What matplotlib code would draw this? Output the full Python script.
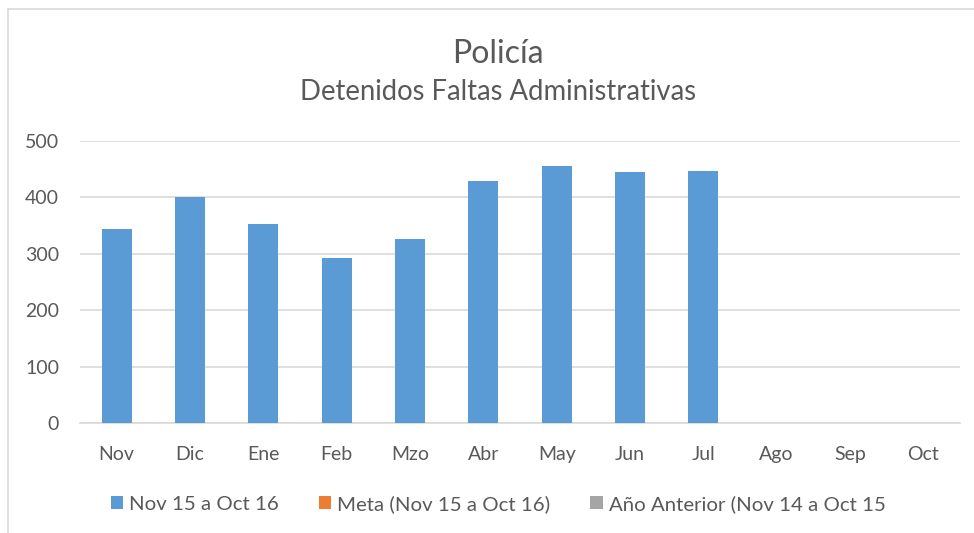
import matplotlib
matplotlib.use("Agg")
import matplotlib.pyplot as plt
from matplotlib.lines import Line2D
from matplotlib.patches import Patch

# datos
meses = ["Nov", "Dic", "Ene", "Feb", "Mzo", "Abr", "May", "Jun", "Jul", "Ago", "Sep", "Oct"]
actual = [345, 400, 353, 292, 326, 429, 456, 445, 446]   # Nov 15 a Oct 16
meta = []                                               # sin datos
anterior = []                                           # sin datos
y_ticks = [0, 100, 200, 300, 400, 500]
series = [
    ('Nov 15 a Oct 16', actual, '#5B9BD5'),
    ('Meta (Nov 15 a Oct 16)', meta, '#ED7D31'),
    ('Año Anterior (Nov 14 a Oct 15', anterior, '#A5A5A5'),
]

plt.rcParams['font.family'] = ['Lato', 'DejaVu Sans']
gris_texto = '#595959'
gris_linea = '#D9D9D9'

fig = plt.figure(figsize=(9.74, 5.33), dpi=100)
ax = fig.add_axes([80 / 974, 1 - 423.3 / 533, 880 / 974, 282.3 / 533])

handles = []
for nombre, valores, color in series:
    ax.bar(range(len(valores)), valores, width=0.41, color=color, zorder=3)
    handles.append(Patch(facecolor=color, label=nombre))

ax.set_xlim(-0.5, len(meses) - 0.5)
ax.set_ylim(0, 500)
ax.set_xticks(range(len(meses)))
ax.set_xticklabels(meses)
ax.set_yticks(y_ticks)

ax.grid(axis='y', color=gris_linea, linewidth=1.2, zorder=0)
ax.set_axisbelow(True)
for s in ['top', 'right', 'left']:
    ax.spines[s].set_visible(False)
ax.spines['bottom'].set_color(gris_linea)
ax.spines['bottom'].set_linewidth(1.2)
ax.tick_params(axis='both', length=0, labelsize=14, colors=gris_texto)
ax.tick_params(axis='x', pad=16)
ax.tick_params(axis='y', pad=15)

# titulos
fig.text(498 / 974, 1 - 62.7 / 533, 'Policía', ha='center', va='baseline', fontsize=23, color=gris_texto)
fig.text(498 / 974, 1 - 100.5 / 533, 'Detenidos Faltas Administrativas', ha='center', va='baseline',
         fontsize=19.8, color=gris_texto)

# leyenda
fig.legend(handles=handles, loc='center left', bbox_to_anchor=(111 / 974, 1 - 504 / 533), ncol=3,
           frameon=False, fontsize=14.7, handlelength=0.6, handleheight=0.6, handletextpad=0.3,
           columnspacing=1.95, borderaxespad=0, borderpad=0, labelcolor=gris_texto)

# borde del grafico
fig.add_artist(Line2D([8 / 974, 1], [1 - 9 / 533, 1 - 9 / 533], color=gris_linea, linewidth=1.2))
fig.add_artist(Line2D([8 / 974, 8 / 974], [0, 1 - 9 / 533], color=gris_linea, linewidth=1.2))

fig.savefig('out.png', dpi=100)
plt.close()
